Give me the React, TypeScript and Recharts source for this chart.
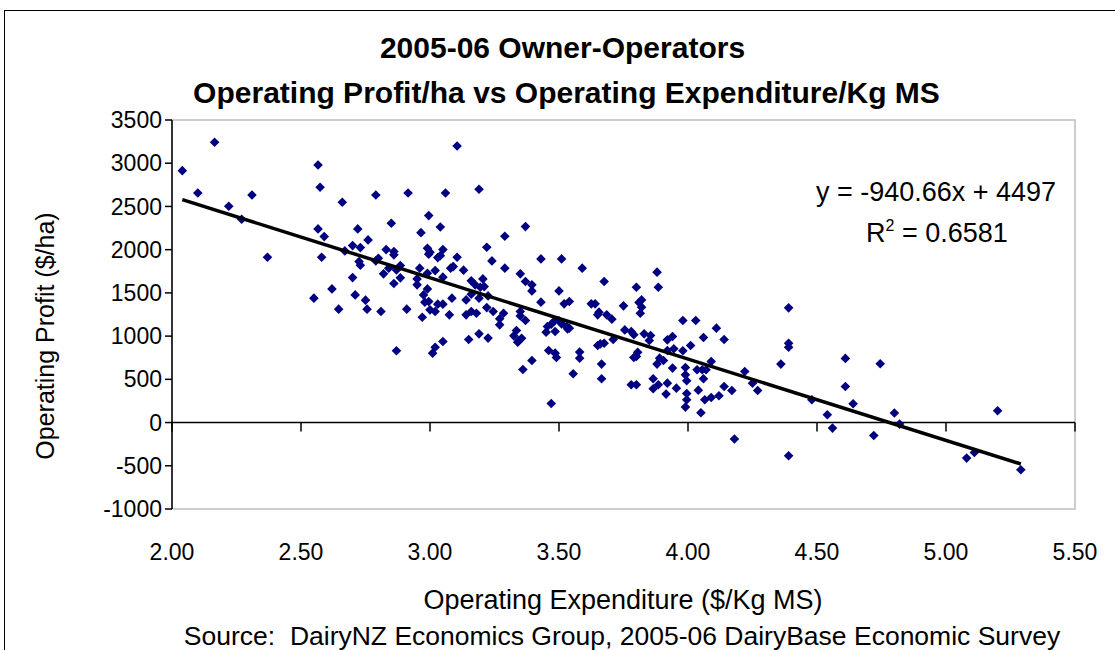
import {
  ScatterChart,
  Scatter,
  XAxis,
  YAxis,
  ReferenceLine,
  ReferenceArea,
} from 'recharts';

const FONT = '"Liberation Sans", Arial, sans-serif';

// x: operating expenditure ($/kg MS), y: operating profit ($/ha)
const opexPerKg = [
  2.04, 2.165, 2.1, 2.22, 2.27, 2.31, 2.37,
  2.566, 2.574, 2.66, 2.566, 2.59, 2.58, 2.55, 2.62, 2.646, 2.7,
  2.71, 2.75, 2.756, 2.67, 2.7, 2.73, 2.72, 2.725, 2.73, 2.76,
  2.79, 2.85, 2.83, 2.86, 2.86, 2.8, 2.79, 2.82, 2.84, 2.87,
  2.885, 2.885, 2.86, 2.81, 2.87,
  2.91, 2.915, 2.965, 2.995, 3.04, 3.06, 3.105, 3.19, 2.99, 3.0,
  2.995, 3.05, 3.04, 3.03, 3.105, 3.08, 3.09, 3.13, 2.96, 2.99,
  3.02, 3.05, 2.95, 2.95, 2.99, 2.975, 2.98, 2.995, 3.03, 3.05,
  3.085, 3.0, 3.02, 2.97, 3.075, 3.16, 3.175, 3.205, 3.21, 3.195,
  3.16, 3.19, 3.225, 3.14, 3.14, 3.16, 3.18, 3.01, 3.02, 3.05,
  3.15, 3.19,
  3.225, 3.37, 3.29, 3.22, 3.24, 3.29, 3.35, 3.37, 3.395, 3.395,
  3.22, 3.245, 3.285, 3.27, 3.27, 3.35, 3.35, 3.37, 3.335, 3.325,
  3.345, 3.355, 3.34, 3.36, 3.395, 3.43, 3.51, 3.43, 3.5, 3.455,
  3.45, 3.47, 3.48, 3.5, 3.51, 3.53, 3.54, 3.533, 3.485, 3.46,
  3.485, 3.49, 3.47,
  3.59, 3.675, 3.88, 3.885, 3.8, 3.52, 3.54, 3.625, 3.64, 3.65,
  3.655, 3.685, 3.705, 3.75, 3.82, 3.81, 3.82, 3.815, 3.58, 3.58,
  3.555, 3.65, 3.66, 3.675, 3.71, 3.665, 3.665, 3.755, 3.78, 3.79,
  3.83, 3.855, 3.85, 3.8, 3.79, 3.805, 3.78, 3.8, 3.88, 3.89,
  3.905, 3.865, 3.865, 3.885, 3.92, 3.915, 3.92, 3.94, 3.92, 3.945,
  3.94, 3.98, 3.98, 3.99, 3.955, 3.99, 3.995, 3.995, 3.995, 3.99,
  4.03, 4.11, 4.14, 4.06, 4.01, 4.09, 4.035, 4.055, 4.07, 4.06,
  4.04, 4.065, 4.09, 4.12, 4.05, 4.14, 4.17, 4.22, 4.25, 4.27,
  4.18, 4.39, 4.39, 4.39, 4.36, 4.48, 4.61, 4.745, 4.61, 4.64,
  4.54, 4.56, 4.72, 4.8, 4.82, 4.39, 5.2, 5.08, 5.11, 5.29,
];

const profitPerHa = [
  2914, 3242, 2656, 2502, 2352, 2633, 1913,
  2980, 2722, 2549, 2240, 2151, 1913, 1439, 1546, 1312, 1677,
  1477, 1416, 1312, 1986, 2047, 2024, 2240, 1862, 1820, 2113,
  2633, 2306, 2001, 1978, 1940, 1900, 1870, 1720, 1786, 1766,
  1816, 1674, 1608, 1284, 830,
  1312, 2656, 2197, 2394, 2263, 2656, 3199, 2699, 2017, 1971,
  1948, 2001, 1931, 1908, 1913, 1786, 1804, 1763, 1786, 1728,
  1758, 1682, 1662, 1593, 1546, 1477, 1393, 1400, 1370, 1370,
  1439, 1304, 1284, 1219, 1246, 1639, 1593, 1662, 1573, 1566,
  1485, 1439, 1465, 1419, 1246, 1284, 1265, 803, 872, 937,
  960, 1026,
  977, 2267, 2156, 2028, 1870, 1786, 1720, 1631, 1593, 1523,
  1330, 1284, 1265, 1200, 1130, 1284, 1234, 1180, 1065, 1003,
  949, 976, 930, 614, 718, 1893, 1893, 1393, 1523, 1111,
  1046, 1138, 1169, 1177, 1142, 1111, 1092, 1084, 1053, 833,
  803, 752, 220,
  1786, 1631, 1740, 1566, 1566, 1373, 1400, 1373, 1373, 1246,
  1277, 1246, 1196, 1350, 1419, 1389, 1335, 1265, 815, 745,
  564, 891, 910, 918, 960, 676, 506, 1072, 1053, 1015,
  1026, 1007, 949, 764, 752, 814, 437, 437, 676, 745,
  718, 506, 391, 437, 456, 329, 957, 995, 833, 853,
  630, 1180, 830, 637, 398, 552, 483, 336, 263, 179,
  1180, 1092, 960, 984, 891, 706, 610, 610, 610, 506,
  375, 263, 290, 310, 113, 417, 371, 590, 456, 371,
  -191, 1327, 918, 872, 676, 263, 742, 680, 417, 217,
  90, -64, -150, 110, -18, -384, 136, -411, -346, -546,
];

const xTicks = [2, 2.5, 3, 3.5, 4, 4.5, 5, 5.5];
const yTicks = [-1000, -500, 0, 500, 1000, 1500, 2000, 2500, 3000, 3500];

// linear trend shown on the chart
const slope = -940.66;
const intercept = 4497;
const trendRange = [2.04, 5.29];

const points = opexPerKg.map((x, i) => ({ x, y: profitPerHa[i] }));
const trend = trendRange.map((x) => ({ x, y: slope * x + intercept }));

function Diamond({ cx, cy }: { cx?: number; cy?: number }) {
  if (cx == null || cy == null) return null;
  const r = 4.8;
  return (
    <polygon
      points={`${cx},${cy - r} ${cx + r},${cy} ${cx},${cy + r} ${cx - r},${cy}`}
      fill="#000080"
    />
  );
}

function NoDot() {
  return <g />;
}

const tickStyle = { fill: '#000', fontSize: 23, fontFamily: FONT };

export default function App() {
  return (
    <div
      style={{
        position: 'fixed',
        left: 0,
        top: 0,
        width: 1115,
        height: 650,
        overflow: 'hidden',
        background: '#fff',
        fontFamily: FONT,
        color: '#000',
      }}
    >
      <div
        style={{
          position: 'absolute',
          left: 4,
          top: 10,
          width: 1120,
          height: 660,
          borderLeft: '1.5px solid #000',
          borderTop: '1.5px solid #000',
        }}
      />
      <div style={{ position: 'absolute', left: 0, top: 0 }}>
        <ScatterChart
          width={1115}
          height={650}
          margin={{ top: 120, right: 40, bottom: 81, left: 72 }}
        >
          <ReferenceArea
            x1={2}
            x2={5.5}
            y1={-1000}
            y2={3500}
            fill="none"
            stroke="#bdbdbd"
            strokeWidth={1.5}
          />
          <XAxis
            type="number"
            dataKey="x"
            domain={[2, 5.5]}
            ticks={xTicks}
            interval={0}
            tickFormatter={(v: number) => v.toFixed(2)}
            axisLine={false}
            tickLine={false}
            tickSize={0}
            tickMargin={35}
            height={60}
            tick={tickStyle}
          />
          <YAxis
            type="number"
            dataKey="y"
            domain={[-1000, 3500]}
            ticks={yTicks}
            interval={0}
            width={100}
            axisLine={{ stroke: '#000', strokeWidth: 1.5 }}
            tickLine={{ stroke: '#000', strokeWidth: 1.5 }}
            tickSize={7}
            tickMargin={3}
            tick={tickStyle}
          />
          <ReferenceLine y={0} stroke="#000" strokeWidth={1.5} />
          {xTicks.map((t) => (
            <ReferenceLine
              key={t}
              segment={[
                { x: t, y: 0 },
                { x: t, y: -104 },
              ]}
              stroke="#000"
              strokeWidth={1.5}
            />
          ))}
          <Scatter data={points} shape={<Diamond />} isAnimationActive={false} />
          <Scatter
            data={trend}
            line={{ stroke: '#000', strokeWidth: 3.5 }}
            shape={<NoDot />}
            isAnimationActive={false}
          />
        </ScatterChart>
      </div>

      <div
        style={{
          position: 'absolute',
          left: 0,
          width: 1125,
          top: 33,
          fontSize: 30,
          lineHeight: '30px',
          fontWeight: 'bold',
          textAlign: 'center',
        }}
      >
        2005-06 Owner-Operators
      </div>
      <div
        style={{
          position: 'absolute',
          left: 0,
          width: 1133,
          top: 78,
          fontSize: 30,
          lineHeight: '30px',
          fontWeight: 'bold',
          textAlign: 'center',
        }}
      >
        Operating Profit/ha vs Operating Expenditure/Kg MS
      </div>

      <div
        style={{
          position: 'absolute',
          left: 736,
          width: 400,
          top: 179,
          fontSize: 27,
          lineHeight: '27px',
          textAlign: 'center',
        }}
      >
        y = -940.66x + 4497
      </div>
      <div
        style={{
          position: 'absolute',
          left: 737,
          width: 400,
          top: 219.5,
          fontSize: 27,
          lineHeight: '27px',
          textAlign: 'center',
        }}
      >
        R<span style={{ fontSize: 16, position: 'relative', top: -11 }}>2</span> = 0.6581
      </div>

      <div
        style={{
          position: 'absolute',
          left: 45,
          top: 336,
          fontSize: 25,
          lineHeight: '25px',
          whiteSpace: 'nowrap',
          transform: 'translate(-50%, -50%) rotate(-90deg)',
        }}
      >
        Operating Profit ($/ha)
      </div>
      <div
        style={{
          position: 'absolute',
          left: 123,
          width: 1000,
          top: 586.5,
          fontSize: 27,
          lineHeight: '27px',
          textAlign: 'center',
        }}
      >
        Operating Expenditure ($/Kg MS)
      </div>
      <div
        style={{
          position: 'absolute',
          left: 122,
          width: 1000,
          top: 623,
          fontSize: 26.5,
          lineHeight: '26.5px',
          textAlign: 'center',
          whiteSpace: 'nowrap',
        }}
      >
        Source:&nbsp; DairyNZ Economics Group, 2005-06 DairyBase Economic Survey
      </div>
    </div>
  );
}
